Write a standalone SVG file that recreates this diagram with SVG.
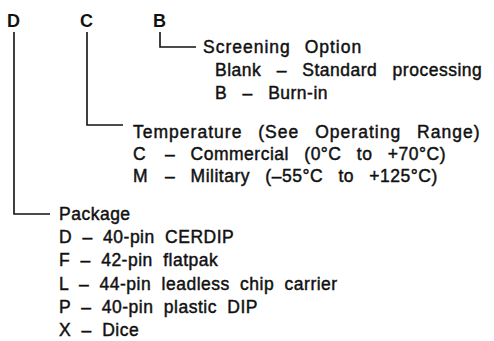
<svg xmlns="http://www.w3.org/2000/svg" width="494" height="341" viewBox="0 0 494 341">
<style>
.t{font-family:"Liberation Sans",Arial,sans-serif;font-size:17.5px;letter-spacing:0.5px;word-spacing:10px;fill:#111;stroke:#111;stroke-width:0.45px;}
.p{word-spacing:5px;}
.s{letter-spacing:1px;word-spacing:8px;}
.h{font-family:"Liberation Sans",Arial,sans-serif;font-size:18px;font-weight:bold;fill:#111;}
.c{fill:none;stroke:#111;stroke-width:1.6;}
</style>
<rect width="494" height="341" fill="#fff"/>
<g id="connectors">
<polyline class="c" points="14,32 14,214 50,214"/>
<polyline class="c" points="87,32 87,125 123,125"/>
<polyline class="c" points="160,32 160,47 196,47"/>
</g>
<g id="node-D"><text class="h" x="7" y="27">D</text></g>
<g id="node-C"><text class="h" x="80" y="27">C</text></g>
<g id="node-B"><text class="h" x="153" y="27">B</text></g>
<g id="screening">
<text class="t s" x="203" y="53">Screening Option</text>
<text class="t" x="215" y="76">Blank – Standard processing</text>
<text class="t" x="215" y="99">B – Burn-in</text>
</g>
<g id="temperature">
<text class="t" x="133" y="138" textLength="347" lengthAdjust="spacing">Temperature (See Operating Range)</text>
<text class="t" x="133" y="160">C<tspan x="165">– Commercial (0°C to +70°C)</tspan></text>
<text class="t" x="133" y="182">M<tspan x="165">– Military (–55°C to +125°C)</tspan></text>
</g>
<g id="package">
<text class="t p" x="59" y="220">Package</text>
<text class="t p" x="59" y="243">D – 40-pin CERDIP</text>
<text class="t p" x="59" y="266">F – 42-pin flatpak</text>
<text class="t p" x="59" y="290">L – 44-pin leadless chip carrier</text>
<text class="t p" x="59" y="313">P – 40-pin plastic DIP</text>
<text class="t p" x="59" y="336">X – Dice</text>
</g>
</svg>
